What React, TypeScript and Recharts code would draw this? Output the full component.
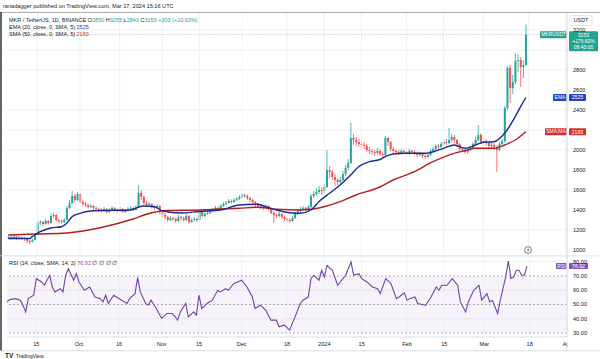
import React from 'react';
import { ComposedChart, Bar, Line, XAxis, YAxis, CartesianGrid, ReferenceLine, ReferenceArea } from 'recharts';

const FONT = "'Liberation Sans', Arial, sans-serif";

const closes = [
  1130,1120,1135,1115,1125,1120,1110,1090,1085,1100,
  1150,1270,1280,1260,1290,1270,1340,1350,1300,1290,
  1280,1300,1420,1470,1540,1500,1560,1480,1460,1450,
  1430,1440,1420,1410,1400,1390,1410,1380,1400,1420,
  1400,1390,1410,1380,1390,1410,1420,1400,1430,1570,
  1530,1470,1450,1460,1430,1420,1440,1380,1350,1330,
  1300,1320,1310,1290,1330,1320,1300,1340,1280,1300,
  1310,1300,1380,1340,1360,1370,1390,1400,1420,1410,
  1440,1460,1470,1490,1480,1500,1510,1530,1550,1540,
  1520,1500,1480,1450,1440,1430,1420,1440,1410,1370,
  1350,1340,1360,1330,1310,1300,1290,1320,1360,1390,
  1410,1420,1400,1430,1540,1560,1580,1600,1590,1630,
  1800,1780,1730,1700,1680,1700,1760,1820,1870,2120,
  2100,2080,2060,2050,2040,2000,1990,1980,1970,1990,
  1960,1950,2120,2080,2010,1990,1980,1970,1990,1980,
  1960,1990,1980,1970,1950,1960,1940,1930,1950,1990,
  2010,2040,2030,2060,2080,2070,2100,2130,2100,2060,
  2010,2000,1980,2000,2020,2060,2100,2150,2080,2090,
  2070,2040,2050,2030,2000,2060,2090,2420,2820,2620,
  2680,2890,2900,2830,2850,3153,
];

const highs = [
  1145,1140,1150,1145,1140,1135,1130,1120,1105,1115,
  1165,1290,1300,1295,1310,1300,1370,1375,1360,1315,
  1305,1320,1440,1500,1590,1560,1580,1570,1500,1480,
  1465,1460,1450,1440,1425,1420,1430,1420,1420,1440,
  1430,1415,1430,1420,1410,1430,1440,1435,1450,1650,
  1600,1545,1490,1480,1470,1450,1460,1450,1395,1370,
  1345,1340,1335,1325,1350,1345,1335,1360,1350,1320,
  1330,1325,1400,1390,1380,1390,1410,1420,1440,1435,
  1460,1480,1490,1510,1505,1520,1530,1550,1570,1565,
  1555,1530,1515,1490,1470,1455,1450,1460,1450,1420,
  1385,1365,1380,1370,1345,1325,1315,1340,1380,1410,
  1430,1440,1430,1450,1560,1590,1620,1640,1625,1660,
  2000,1840,1800,1760,1720,1730,1790,1850,1910,2270,
  2160,2130,2110,2090,2080,2060,2030,2010,2000,2020,
  2010,1985,2140,2130,2090,2030,2010,2000,2010,2005,
  1995,2010,2005,2000,1985,1980,1975,1960,1970,2010,
  2030,2060,2060,2080,2100,2110,2220,2160,2150,2110,
  2070,2030,2020,2020,2040,2080,2130,2250,2170,2120,
  2110,2090,2080,2070,2050,2080,2110,2440,2840,2850,
  2750,2970,2960,2930,2900,3255,
];

const lows = [
  1110,1105,1110,1100,1105,1100,1090,1070,1060,1075,
  1095,1140,1250,1240,1250,1255,1265,1320,1285,1270,
  1265,1270,1295,1410,1460,1480,1490,1470,1440,1430,
  1415,1420,1400,1390,1380,1375,1380,1365,1370,1390,
  1385,1375,1380,1370,1370,1385,1400,1390,1395,1420,
  1500,1450,1430,1435,1415,1400,1410,1360,1330,1310,
  1280,1290,1290,1270,1280,1300,1280,1290,1260,1270,
  1290,1285,1295,1325,1330,1350,1360,1380,1390,1395,
  1400,1430,1450,1460,1465,1470,1490,1500,1520,1520,
  1500,1480,1460,1430,1425,1410,1400,1410,1390,1360,
  1270,1320,1325,1310,1290,1280,1270,1280,1310,1350,
  1380,1400,1385,1390,1420,1520,1540,1560,1550,1570,
  1620,1720,1700,1640,1650,1660,1690,1740,1800,1860,
  2050,2040,2030,2020,2010,1980,1960,1950,1940,1950,
  1940,1920,1940,2040,1990,1970,1960,1950,1955,1960,
  1945,1950,1960,1950,1930,1935,1920,1910,1920,1940,
  1980,2000,2010,2020,2040,2050,2060,2080,2070,2030,
  1990,1980,1960,1960,1990,2010,2050,2090,2060,2050,
  2040,2020,2010,2000,1780,1990,2040,2070,2400,2470,
  2560,2660,2780,2630,2720,2843,
];

const firstOpen = 1125;

const emaPoints: [number, number][] = [
  [0,1115],[8,1115],[9,1133],[12,1183],[16,1220],[20,1233],[22,1267],[24,1333],[27,1367],[31,1390],
  [35,1395],[46,1400],[48,1417],[51,1440],[55,1433],[58,1393],[65,1370],[72,1385],[80,1400],[87,1450],
  [94,1457],[97,1433],[101,1400],[106,1373],[110,1367],[114,1400],[117,1483],[121,1567],[125,1650],[129,1750],
  [132,1833],[136,1883],[140,1905],[142,1933],[145,1960],[149,1967],[157,1967],[164,2017],[168,2050],[172,2017],
  [176,2050],[179,2077],[183,2083],[187,2167],[191,2333],[193,2433],[195,2525],
];

const smaPoints: [number, number][] = [
  [0,1150],[10,1160],[22,1170],[35,1225],[47,1310],[53,1365],[60,1395],[72,1400],[87,1417],[94,1427],
  [101,1407],[110,1400],[119,1433],[125,1483],[131,1550],[140,1630],[145,1700],[153,1783],[160,1883],[168,1967],
  [172,1993],[176,2017],[183,2017],[187,2050],[191,2100],[195,2183],
];

const rsiPoints: [number, number][] = [
  [0,51.8],[1,53.4],[3,54.1],[5,53],[6,49.5],[7,44.8],[8,54.1],[10,56.5],[11,68.1],[13,65.8],
  [14,63.5],[16,70.5],[17,62.3],[18,58.8],[20,61.1],[21,58.8],[22,70.5],[23,75.1],[25,67],[26,71.6],
  [27,65.8],[29,60],[31,62.3],[33,55.3],[35,54.1],[36,51.8],[37,56.5],[38,50.7],[40,56.5],[41,55.3],
  [43,53],[45,50.7],[46,54.1],[48,57.6],[49,68.8],[50,58.8],[52,50.7],[53,49.5],[54,53],[56,47.2],
  [58,40.2],[60,43.7],[62,43.7],[64,39],[65,44.8],[67,50.7],[68,41.3],[70,44.8],[71,42.5],[72,56.5],
  [73,47.2],[75,50.7],[77,53],[79,60],[80,58.8],[82,61.1],[83,60],[85,64.6],[88,67],[90,62.3],
  [92,55.3],[93,47.2],[95,49.5],[97,46],[99,39],[101,39],[102,34.3],[104,35.5],[106,32],[108,41.3],
  [110,50.7],[111,53],[113,55.3],[114,68.1],[115,70.5],[117,67],[118,74],[119,69.3],[120,77.5],[122,74],
  [124,63.5],[126,68.1],[127,70.5],[129,79.8],[130,70.5],[132,71.6],[133,68.1],[135,65.8],[137,62.3],[139,61.1],
  [140,57.6],[142,68.1],[144,64.6],[146,54.1],[147,55.3],[149,58.1],[150,53],[151,54.1],[153,55.3],[154,50.7],
  [157,49.5],[159,55.3],[161,62.3],[162,60],[163,63.5],[165,63.5],[167,68.1],[169,63.5],[170,51.8],[172,44.8],
  [173,51.8],[175,60],[177,63.5],[178,53],[180,57.6],[181,51.8],[182,53],[184,43.7],[185,53],[187,69.3],
  [188,80.5],[189,68.2],[190,69.3],[191,74],[192,74],[193,70.5],[194,70.5],[195,76.92],
];

const TOTAL_SLOTS = 211;
const tickIndex = [11, 27, 42, 58, 72, 88, 105, 119, 133, 150, 164, 179, 196, 210];
const tickLabels = ['15', 'Oct', '16', 'Nov', '15', 'Dec', '18', '2024', '15', 'Feb', '15', 'Mar', '18', 'Apr'];
const priceTicks = [1000, 1200, 1400, 1600, 1800, 2000, 2200, 2400, 2600, 2800, 3000, 3200];
const hiddenPriceTicks = [3000, 2200];
const rsiTicks = [30, 40, 50, 60, 70, 80];

const lastPrice = 3153;
const lastEma = 2525;
const lastSma = 2183;
const lastRsi = 76.92;

const emaMap = new Map(emaPoints);
const smaMap = new Map(smaPoints);
const rsiMap = new Map(rsiPoints);

const data = Array.from({ length: TOTAL_SLOTS }, (_, k) => {
  const has = k < closes.length;
  return {
    k,
    range: has ? [lows[k], highs[k]] : null,
    open: has ? (k === 0 ? firstOpen : closes[k - 1]) : null,
    close: has ? closes[k] : null,
    ema: emaMap.has(k) ? emaMap.get(k) : null,
    sma: smaMap.has(k) ? smaMap.get(k) : null,
    rsi: rsiMap.has(k) ? rsiMap.get(k) : null,
  };
});

const UP = '#26a69a';
const DOWN = '#ef5350';
const GRID = '#eceef3';

const Candle = (props: any) => {
  const { x, y, width, height, payload } = props;
  if (!payload || !payload.range) return null;
  const [lo, hi] = payload.range;
  const o = payload.open;
  const c = payload.close;
  const ratio = hi === lo ? 0 : height / (hi - lo);
  const yO = y + (hi - o) * ratio;
  const yC = y + (hi - c) * ratio;
  const color = c >= o ? UP : DOWN;
  const cx = x + width / 2;
  const top = Math.min(yO, yC);
  const bh = Math.max(Math.abs(yO - yC), 1);
  return (
    <g>
      <line x1={cx} x2={cx} y1={y} y2={y + height} stroke={color} strokeWidth={0.8} />
      <rect x={cx - 1} y={top} width={2} height={bh} fill={color} />
    </g>
  );
};

const Badge = (props: any) => {
  const { viewBox, name, value, color, nameW, valW, lines, h = 7 } = props;
  if (!viewBox) return null;
  const xr = viewBox.x + viewBox.width;
  const y = viewBox.y;
  const extra: string[] = lines || [];
  const valH = h + extra.length * 6.5;
  return (
    <g fontFamily={FONT}>
      <rect x={xr - nameW} y={y - h / 2} width={nameW} height={h} fill={color} rx={0.8} />
      <text x={xr - nameW / 2} y={y} dy="0.35em" textAnchor="middle" fontSize={5} fill="#fff">{name}</text>
      <rect x={xr + 2} y={y - h / 2} width={valW} height={valH} fill={color} rx={0.8} />
      <text x={xr + 2 + valW / 2} y={y} dy="0.35em" textAnchor="middle" fontSize={5.2} fill="#fff">{value}</text>
      {extra.map((t, i) => (
        <text key={i} x={xr + 2 + valW / 2} y={y + 6.5 * (i + 1)} dy="0.35em" textAnchor="middle" fontSize={5} fill="#fff">{t}</text>
      ))}
    </g>
  );
};

const axisTick = { fontSize: 5.6, fill: '#131722', fontFamily: FONT };

export default function App() {
  return (
    <div style={{ position: 'fixed', left: 0, top: 0, width: 600, height: 359, background: '#fff', overflow: 'hidden' }}>
      <div style={{ position: 'absolute', left: 0, top: 0 }}>
        <ComposedChart width={600} height={256} data={data} margin={{ top: 12, right: 0, bottom: 0, left: 7 }} barCategoryGap={0}>
          <CartesianGrid vertical={false} stroke={GRID} strokeWidth={0.8} />
          {tickIndex.map((t) => (
            <ReferenceLine key={'v' + t} x={t} stroke={GRID} strokeWidth={0.8} />
          ))}
          <XAxis dataKey="k" type="category" hide />
          <YAxis
            orientation="right"
            width={33}
            domain={[940, 3380]}
            ticks={priceTicks}
            allowDataOverflow
            tick={axisTick}
            tickLine={false}
            tickSize={4}
            tickMargin={2}
            axisLine={{ stroke: '#e0e3eb' }}
            tickFormatter={(v: number) => (hiddenPriceTicks.includes(v) ? '' : String(v))}
          />
          <ReferenceLine y={lastPrice} stroke="#b2b5be" strokeWidth={0.7} strokeDasharray="1.5 1.5"
            label={<Badge name="MKRUSDT" value={String(lastPrice)} color="#22a38f" nameW={27} valW={29} lines={['+176.82%', '08:43:00']} />} />
          <Bar dataKey="range" shape={Candle} isAnimationActive={false} />
          <Line dataKey="sma" type="monotone" stroke="#b71c1c" strokeWidth={1.4} dot={false} connectNulls isAnimationActive={false} />
          <Line dataKey="ema" type="monotone" stroke="#1a2a94" strokeWidth={1.4} dot={false} connectNulls isAnimationActive={false} />
          <ReferenceLine y={lastEma} stroke="none"
            label={<Badge name="EMA" value={String(lastEma)} color="#2342d0" nameW={14} valW={17} />} />
          <ReferenceLine y={lastSma} stroke="none"
            label={<Badge name="SMA:MA" value={String(lastSma)} color="#d32f2f" nameW={22} valW={17} />} />
        </ComposedChart>
      </div>
      <div style={{ position: 'absolute', left: 0, top: 256 }}>
        <ComposedChart width={600} height={95} data={data} margin={{ top: 0, right: 0, bottom: 0, left: 7 }} barCategoryGap={0}>
          <ReferenceArea y1={30} y2={70} fill="#7e57c2" fillOpacity={0.07} stroke="none" />
          <CartesianGrid vertical={false} stroke={GRID} strokeWidth={0.8} />
          {tickIndex.map((t) => (
            <ReferenceLine key={'r' + t} x={t} stroke={GRID} strokeWidth={0.8} />
          ))}
          <XAxis
            dataKey="k"
            type="category"
            ticks={tickIndex}
            interval={0}
            height={14}
            tick={axisTick}
            tickLine={false}
            tickSize={2}
            tickMargin={3.5}
            axisLine={{ stroke: '#e0e3eb' }}
            tickFormatter={(v: number) => tickLabels[tickIndex.indexOf(v)] ?? ''}
          />
          <YAxis
            orientation="right"
            width={33}
            domain={[27.2, 84]}
            ticks={rsiTicks}
            allowDataOverflow
            tick={axisTick}
            tickLine={false}
            tickSize={4}
            tickMargin={2}
            axisLine={{ stroke: '#e0e3eb' }}
            tickFormatter={(v: number) => v.toFixed(2)}
          />
          <ReferenceLine y={70} stroke="#8a8d96" strokeWidth={0.7} strokeDasharray="2 2" />
          <ReferenceLine y={50} stroke="#8a8d96" strokeWidth={0.7} strokeDasharray="2 2" />
          <ReferenceLine y={30} stroke="#8a8d96" strokeWidth={0.7} strokeDasharray="2 2" />
          <Line dataKey="rsi" type="linear" stroke="#7442a8" strokeWidth={1.1} dot={false} connectNulls isAnimationActive={false} />
          <ReferenceLine y={lastRsi} stroke="none"
            label={<Badge name="RSI" value={lastRsi.toFixed(2)} color="#7e57c2" nameW={11} valW={19} h={6} />} />
        </ComposedChart>
      </div>
      <svg width={600} height={359} style={{ position: 'absolute', left: 0, top: 0, pointerEvents: 'none' }} fontFamily={FONT}>
        <rect x={567.5} y={338} width={32} height={12.5} fill="#fff" />
        <line x1={567} x2={567} y1={12} y2={351} stroke="#e0e3eb" strokeWidth={0.8} />
        <line x1={0} x2={600} y1={12.5} y2={12.5} stroke="#9a9a9a" strokeWidth={0.8} />
        <line x1={1} x2={1} y1={12} y2={351} stroke="#333" strokeWidth={1.5} />
        <line x1={0} x2={600} y1={255.8} y2={255.8} stroke="#dcdfe6" strokeWidth={0.8} />
        <line x1={0} x2={600} y1={350.8} y2={350.8} stroke="#d0d3da" strokeWidth={0.8} />
        <text x={3} y={6} dy="0.35em" fontSize={5.6} fill="#222">ranadagger published on TradingView.com, Mar 17, 2024 15:16 UTC</text>
        <text x={9} y={20} dy="0.35em" fontSize={5.5} fill="#131722">
          MKR / TetherUS, 1D, BINANCE  O<tspan fill="#22a38f">2850</tspan> H<tspan fill="#22a38f">3255</tspan> L<tspan fill="#22a38f">2843</tspan> C<tspan fill="#22a38f">3153</tspan> <tspan fill="#22a38f">+303 (+10.63%)</tspan>
        </text>
        <text x={9} y={27.5} dy="0.35em" fontSize={5.5} fill="#131722">EMA (20, close, 0, SMA, 5) <tspan fill="#2342d0">2525</tspan></text>
        <text x={9} y={34.5} dy="0.35em" fontSize={5.5} fill="#131722">SMA (50, close, 0, SMA, 5) <tspan fill="#d32f2f">2183</tspan></text>
        <text x={9} y={263.5} dy="0.35em" fontSize={5.5} fill="#131722">RSI (14, close, SMA, 14, 2) <tspan fill="#7e57c2">76.92</tspan>  ∅  ∅  ∅  ∅</text>
        <rect x={570} y={15.5} width={22} height={10} fill="#fff" stroke="#d6d8de" strokeWidth={0.7} rx={1.5} />
        <text x={581} y={20.5} dy="0.35em" textAnchor="middle" fontSize={5.3} fill="#131722">USDT</text>
        <circle cx={528} cy={250} r={3.4} fill="#fff" stroke="#444" strokeWidth={0.7} />
        <path d="M528.8 247.6 L526.9 250.3 L528.2 250.3 L527.4 252.4 L529.3 249.6 L528 249.6 Z" fill="#444" />
        <text x={5} y={356} dy="0.35em" fontSize={6.5} fontWeight="bold" fill="#131722">TV</text>
        <text x={16} y={356} dy="0.35em" fontSize={5} fill="#131722">TradingView</text>
      </svg>
    </div>
  );
}
